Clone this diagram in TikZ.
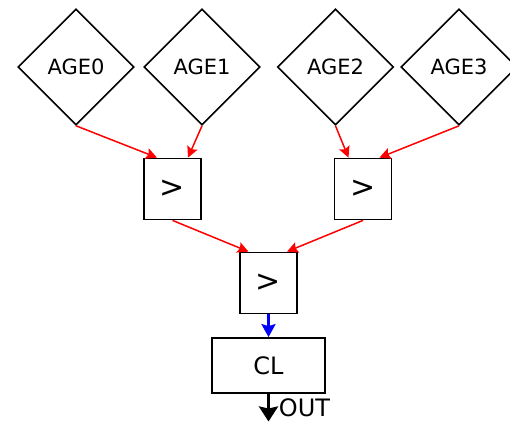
\documentclass[tikz,border=0pt]{standalone}
\usepackage{fontspec}
\setmainfont{DejaVu Sans}
\usetikzlibrary{shapes.geometric,arrows.meta}
\begin{document}
\begin{tikzpicture}[x=1pt,y=-1pt,
  agein/.style={diamond, draw=black, line width=1.6pt, aspect=1, inner sep=0pt,
    minimum width=116pt, minimum height=116pt, font=\fontsize{21}{24}\selectfont},
  gatebox/.style={rectangle, draw=black, line width=1.8pt, inner sep=0pt,
    minimum width=57pt, minimum height=61pt, font=\fontsize{30}{34}\selectfont},
  clbox/.style={rectangle, draw=black, line width=1.8pt, inner sep=0pt,
    minimum width=113pt, minimum height=55pt, font=\fontsize{24}{28}\selectfont},
  redwire/.style={draw=red, line width=1.5pt, -{Stealth[length=11pt,width=11pt,inset=2pt]}},
  bluewire/.style={draw=blue, line width=2.6pt, -{Stealth[length=13pt,width=14pt,inset=2pt]}},
  outwire/.style={draw=black, line width=3.6pt, -{Stealth[length=15pt,width=19pt,inset=2pt]}}
]
\useasboundingbox (0,0) rectangle (510,421);
\begin{scope}
\clip (0,0) rectangle (510,421);

% input diamonds
\node[agein] (a0) at (76,67) {AGE0};
\node[agein] (a1) at (202,67) {AGE1};
\node[agein] (a2) at (335.5,67) {AGE2};
\node[agein] (a3) at (459,67) {AGE3};

% comparator tree
\node[gatebox] (g1) at (172.5,189) {>};
\node[gatebox] (g2) at (363,189) {>};
\node[gatebox] (g3) at (268.5,283) {>};
\node[clbox] (cl) at (268.5,365.5) {CL};

\coordinate (outend) at (268.5,421.5);
\node[font=\fontsize{24}{28}\selectfont, inner sep=0pt] (outlbl) at (304.5,407.5) {OUT};

% wires
\draw[redwire] (a0.south) -- ([xshift=-15.5pt]g1.north);
\draw[redwire] (a1.south) -- ([xshift=15.5pt]g1.north);
\draw[redwire] (a2.south) -- ([xshift=-14.5pt]g2.north);
\draw[redwire] (a3.south) -- ([xshift=16.5pt]g2.north);
\draw[redwire] (g1.south) -- ([xshift=-20pt]g3.north);
\draw[redwire] (g2.south) -- ([xshift=18.5pt]g3.north);
\draw[bluewire] (g3.south) -- (cl.north);
\draw[outwire] (cl.south) -- (outend);
\end{scope}
\end{tikzpicture}
\end{document}
